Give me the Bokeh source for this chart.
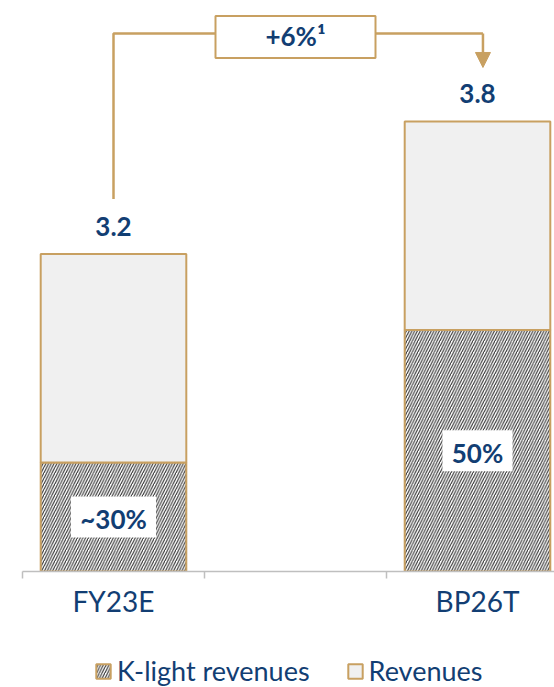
from bokeh.plotting import figure
from bokeh.layouts import column
from bokeh.models import (Range1d, FixedTicker, LinearAxis, Legend, LegendItem,
                          Arrow, NormalHead)
from bokeh.core.properties import value
from bokeh.embed import file_html
from bokeh.resources import INLINE

# ---------------- data ----------------
categories = ["FY23E", "BP26T"]
k_light = [0.92, 2.04]          # hatched segment height
rest = [1.76, 1.76]             # remaining revenues segment height
total_labels = ["3.2", "3.8"]
share_labels = ["~30%", "50%"]
growth_label = "+6%\u00b9"
series_names = ["K-light revenues", "Revenues"]

# ---------------- style ----------------
NAVY = "#123e73"
TAN = "#c8a061"
AXIS = "#bfbfbf"
LIGHT = "#f0f0f0"
FONT = "Lato"

W = 554
LEFT, TOP = 22, 8
H1, H2 = 637, 50
FRAME_H = 563
SLOT = 182.0
Y_MAX = 4.754
PX = FRAME_H / Y_MAX

cat_pos = [0.5 + 2 * i for i in range(len(categories))]
totals = [a + b for a, b in zip(k_light, rest)]

k_style = dict(fill_color="white", hatch_pattern="/", hatch_color="#303030",
               hatch_scale=5.5, hatch_weight=1.1, line_color=TAN, line_width=2)
r_style = dict(fill_color=LIGHT, line_color=TAN, line_width=2)

p = figure(width=W, height=H1, output_backend="svg", toolbar_location=None,
           x_range=Range1d(0, (W - LEFT) / SLOT), y_range=Range1d(0, Y_MAX),
           min_border_left=LEFT, min_border_right=0, min_border_top=TOP,
           min_border_bottom=H1 - FRAME_H - TOP,
           x_axis_location=None, y_axis_location=None)
p.outline_line_color = None
for g in p.grid:
    g.visible = False

p.vbar(x=cat_pos, bottom=0, top=k_light, width=0.8, **k_style)
p.vbar(x=cat_pos, bottom=k_light, top=totals, width=0.8, **r_style)

# axis with boundary ticks
xaxis = LinearAxis(
    ticker=FixedTicker(ticks=cat_pos, minor_ticks=list(range(len(categories) * 2))),
    major_label_overrides={c: lab for c, lab in zip(cat_pos, categories)},
    axis_line_color=AXIS, axis_line_width=1.5,
    major_tick_line_color=None, major_tick_out=0, major_tick_in=0,
    minor_tick_line_color=AXIS, minor_tick_line_width=1.5,
    minor_tick_out=7, minor_tick_in=0,
    major_label_standoff=5,
    major_label_text_font=FONT, major_label_text_font_size="28px",
    major_label_text_color=NAVY)
p.add_layout(xaxis, "below")

# total labels
p.text(x=cat_pos, y=totals, text=total_labels, y_offset=-28,
       text_align="center", text_baseline="middle", text_font=value(FONT),
       text_font_style="bold", text_font_size="26px", text_color=NAVY)

# share labels in white boxes
mid = [k / 2 for k in k_light]
p.rect(x=cat_pos, y=mid, width=[15 * len(s) + 25 for s in share_labels], height=41,
       width_units="screen", height_units="screen", fill_color="white", line_color=None)
p.text(x=cat_pos, y=mid, text=share_labels, y_offset=2,
       text_align="center", text_baseline="middle", text_font=value(FONT),
       text_font_style="bold", text_font_size="26px", text_color=NAVY)

# growth bracket
x_left = cat_pos[0]
x_right = cat_pos[-1] + 0.03
y_top = max(totals) + 88 / PX
y_left_bottom = totals[0] + 55 / PX
y_tip = totals[-1] + 54 / PX
p.line(x=[x_left, x_left, x_right], y=[y_left_bottom, y_top, y_top],
       line_color=TAN, line_width=2.5)
p.add_layout(Arrow(end=NormalHead(size=15, fill_color=TAN, line_color=TAN, line_width=1),
                   x_start=x_right, y_start=y_top, x_end=x_right, y_end=y_tip,
                   line_color=TAN, line_width=2.5))
x_mid = sum(cat_pos) / len(cat_pos)
p.rect(x=[x_mid], y=[y_top - 3.5 / PX], width=160, height=42,
       width_units="screen", height_units="screen", fill_color="white",
       line_color=TAN, line_width=2)
p.text(x=[x_mid], y=[y_top - 3.5 / PX], text=[growth_label], y_offset=-1,
       text_align="center", text_baseline="middle", text_font=value(FONT),
       text_font_style="bold", text_font_size="26px", text_color=NAVY)

# legend strip (its own small figure; the proxy renderers are hidden)
q = figure(width=W, height=H2, output_backend="svg", toolbar_location=None,
           x_range=Range1d(0, 1), y_range=Range1d(0, 1),
           min_border_left=LEFT, min_border_right=0, min_border_top=0, min_border_bottom=0,
           x_axis_location=None, y_axis_location=None)
q.outline_line_color = None
for g in q.grid:
    g.visible = False
lk = q.vbar(x=[0.5], bottom=[0], top=[1], width=0.8, visible=False, **k_style)
lr = q.vbar(x=[0.5], bottom=[0], top=[1], width=0.8, visible=False, **r_style)
legend = Legend(items=[LegendItem(label=series_names[0], renderers=[lk]),
                       LegendItem(label=series_names[1], renderers=[lr])],
                orientation="horizontal", location=(72, 0),
                border_line_color=None, background_fill_alpha=0,
                label_text_font=FONT, label_text_font_size="27px",
                label_text_color=NAVY, glyph_width=18, glyph_height=18,
                label_standoff=5, spacing=36, padding=0, margin=0)
q.add_layout(legend)

layout = column(p, q, spacing=0)
open("out.html", "w").write(file_html(layout, INLINE))
